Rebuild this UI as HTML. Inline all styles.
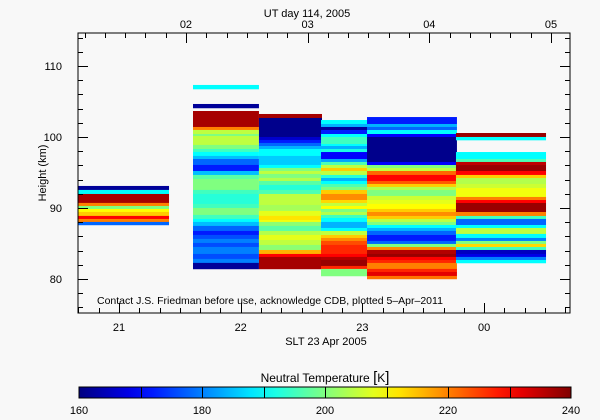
<!DOCTYPE html>
<html><head><meta charset="utf-8"><style>
body{margin:0;background:#f8f8f8;}
svg{display:block;font-family:"Liberation Sans",sans-serif;}
</style></head><body>
<svg id="chart" width="600" height="420" viewBox="0 0 600 420"></svg>
<script>
// ---- data ----
const colStart = [20.663, 21.608, 22.150, 22.660, 23.038, 23.769];
const colEnd   = [21.411, 22.150, 22.668, 23.046, 23.777, 24.509];
const col1Bounds = [93.10,92.54,91.97,90.71,90.28,89.86,89.44,88.88,88.45,88.03,87.61];
const col1Temps  = [162,190,237,220,200,210,214,230,220,178];
const col2Bounds = [107.33,106.76,104.65,104.09,103.66,101.41,100.99,100.42,100.14,98.88,98.31,97.89,97.33,96.90,96.06,95.21,94.65,94.09,92.54,91.97,90.57,90.00,89.02,88.45,88.03,87.47,86.76,86.20,85.64,85.07,84.51,83.52,82.82,82.26,81.41];
const col2Temps  = [190,null,162,null,237,220,205,200,205,200,195,190,185,178,172,185,197,200,195,193,195,200,195,190,185,178,172,176,180,176,180,176,180,162];
const col3Bounds = [103.24,102.68,100.00,99.58,99.16,98.73,98.31,97.33,96.06,95.64,95.21,94.79,94.23,93.80,93.24,92.54,91.97,90.42,89.58,88.88,88.31,88.03,87.47,86.76,86.20,85.49,84.79,84.08,83.52,83.10,81.41];
const col3Temps  = [237,161,166,172,178,184,190,186,190,200,205,200,204,197,193,196,205,203,208,212,209,201,197,204,208,205,201,216,230,237];
const col4Bounds = [102.39,101.83,101.41,100.98,100.42,100.00,99.01,98.73,98.31,97.88,96.90,96.48,96.05,95.63,95.21,94.65,94.22,93.80,93.38,92.96,92.53,91.97,91.12,90.70,90.28,89.86,89.43,89.01,88.59,88.03,87.18,86.76,86.19,85.77,85.35,84.79,83.52,83.10,82.67,81.83,81.41,80.42];
const col4Temps  = [190,184,162,172,190,195,190,184,192,170,183,196,205,214,205,193,184,190,196,200,214,219,213,205,210,200,204,195,190,184,190,205,214,219,224,227,230,236,238,227,200];
const col5Bounds = [102.81,101.83,101.41,100.98,100.42,100.00,96.48,96.05,95.63,95.21,94.65,93.80,93.38,92.96,92.53,91.69,91.12,90.56,89.86,89.43,88.87,88.45,88.03,87.60,87.18,86.76,86.19,85.35,84.93,84.50,84.08,83.52,83.10,82.67,82.25,81.41,80.98,80.42,80.00];
const col5Temps  = [172,184,178,190,170,161,170,200,205,222,230,223,214,204,200,206,208,210,214,219,214,205,200,190,184,178,172,178,200,219,236,238,230,227,220,227,232,221];
const col6Bounds = [100.56,100.00,99.57,97.88,96.90,96.48,96.05,95.21,94.65,94.22,93.38,92.81,91.55,91.12,90.70,89.43,88.87,88.45,87.60,87.18,86.34,85.77,85.35,84.93,84.50,84.08,83.52,83.10,82.67,82.25];
const col6Temps  = [238,190,null,190,196,235,238,230,214,204,206,209,220,230,238,220,195,178,190,205,190,180,200,213,195,165,168,180,190];
const columnsBounds = [col1Bounds,col2Bounds,col3Bounds,col4Bounds,col5Bounds,col6Bounds];
const columnsTemps = [col1Temps,col2Temps,col3Temps,col4Temps,col5Temps,col6Temps];
const yTicks = [80,90,100,110];
const sltTicks = [21,22,23,24];
const sltLabels = ["21","22","23","00"];
const utTicks = [2,3,4,5];
const utLabels = ["02","03","04","05"];
const cbTicks = [160,180,200,220,240];

// ---- scales ----
const PX0=78,PX1=570,PY0=33,PY1=313;
const X0=20.663,X1=24.706,H0=75.2,H1=114.65;
const UT_OFF=4.45; // UT = SLT + 4.45 - 24
function xs(t){return PX0+(t-X0)/(X1-X0)*(PX1-PX0);}
function ys(h){return PY1-(h-H0)/(H1-H0)*(PY1-PY0);}
function xut(u){return xs(u+24-UT_OFF);}
const CB0=79,CB1=571,T0=160,T1=240;
function xc(t){return CB0+(t-T0)/(T1-T0)*(CB1-CB0);}
function jet(v){
  let t=Math.max(0,Math.min(1,(v-T0)/(T1-T0)));
  const f=x=>Math.round(255*Math.max(0,Math.min(1,x)));
  return `rgb(${f(1.5-Math.abs(4*t-3))},${f(1.5-Math.abs(4*t-2))},${f(1.5-Math.abs(4*t-1))})`;
}
const svg=document.getElementById('chart');
const NS='http://www.w3.org/2000/svg';
function mk(tag,attrs,parent){const e=document.createElementNS(NS,tag);for(const k in attrs)e.setAttribute(k,attrs[k]);(parent||svg).appendChild(e);return e;}

// heatmap
const heat=mk('g',{});


columnsBounds.forEach((b,ci)=>{
  const temps=columnsTemps[ci];
  for(let i=0;i<temps.length;i++){
    if(temps[i]===null)continue;
    const r=mk('rect',{x:xs(colStart[ci]),y:ys(b[i]),width:xs(colEnd[ci])-xs(colStart[ci]),height:ys(b[i+1])-ys(b[i])+0.3,fill:jet(temps[i])},heat);
    
    
  }
});

// frame
const frame=mk('rect',{x:PX0,y:PY0,width:PX1-PX0,height:PY1-PY0,fill:'none',stroke:'#000','stroke-width':1});


const ax=mk('g',{stroke:'#000','stroke-width':1});


// y ticks
for(let h=76;h<=114;h+=2){
  const L=(h%10===0)?10:5;const y=Math.round(ys(h))+0.5;
  mk('line',{x1:PX0,x2:PX0+L,y1:y,y2:y},ax);
  mk('line',{x1:PX1,x2:PX1-L,y1:y,y2:y},ax);
}
// slt minor ticks (10 min)
for(let m=Math.ceil(X0*6);m<=X1*6;m++){
  const t=m/6;const x=Math.round(xs(t))+0.5;const L=(m%6===0)?10:5;
  mk('line',{x1:x,x2:x,y1:PY1,y2:PY1-L},ax);
}
for(let m=Math.ceil((X0+UT_OFF-24)*6);m<=(X1+UT_OFF-24)*6;m++){
  const u=m/6;const x=Math.round(xut(u))+0.5;const L=(m%6===0)?10:5;
  mk('line',{x1:x,x2:x,y1:PY0,y2:PY0+L},ax);
}
function txt(s,x,y,name,extra){const e=mk('text',Object.assign({x:x,y:y,'font-size':11,fill:'#000'},extra||{}));e.textContent=s;return e;}
yTicks.forEach(v=>txt(String(v),62,ys(v)+4,'y-tick-label',{'text-anchor':'end'}));
sltTicks.forEach((v,i)=>txt(sltLabels[i],xs(v),331,'x-tick-label',{'text-anchor':'middle'}));
utTicks.forEach((v,i)=>txt(utLabels[i],xut(v),28,'top-tick-label',{'text-anchor':'middle'}));
txt('UT day 114, 2005',307,17,'top-axis-title',{'text-anchor':'middle'});
txt('SLT 23 Apr 2005',326,345,'x-axis-title',{'text-anchor':'middle'});
txt('Height (km)',46,173,'y-axis-title',{'text-anchor':'middle',transform:'rotate(-90 46 173)'});
txt('Contact J.S. Friedman before use, acknowledge CDB, plotted 5\u2013Apr\u20132011',97,304,'credit-note',{'font-size':10.5});

// colorbar
const cb=mk('g',{});


const defs=mk('defs',{});
const gr=mk('linearGradient',{id:'jetg',x1:0,x2:1,y1:0,y2:0},defs);
for(let i=0;i<=20;i++){mk('stop',{offset:(i/20),'stop-color':jet(T0+(T1-T0)*i/20)},gr);}
mk('rect',{x:CB0,y:387,width:CB1-CB0,height:11,fill:'url(#jetg)',stroke:'#000'},cb);
for(let t=170;t<240;t+=10){const x=Math.round(xc(t))+0.5;mk('line',{x1:x,x2:x,y1:387,y2:398,stroke:'#000'},cb);}
cbTicks.forEach(v=>txt(String(v),xc(v),414,'colorbar-tick-label',{'text-anchor':'middle'}));
const ct=txt('Neutral Temperature ',325,382,'colorbar-title',{'text-anchor':'middle','font-size':12});
const br=mk('tspan',{'font-size':15},ct);br.textContent='[';
const k=mk('tspan',{},ct);k.textContent='K';
const br2=mk('tspan',{'font-size':15},ct);br2.textContent=']';
</script>
</body></html>
